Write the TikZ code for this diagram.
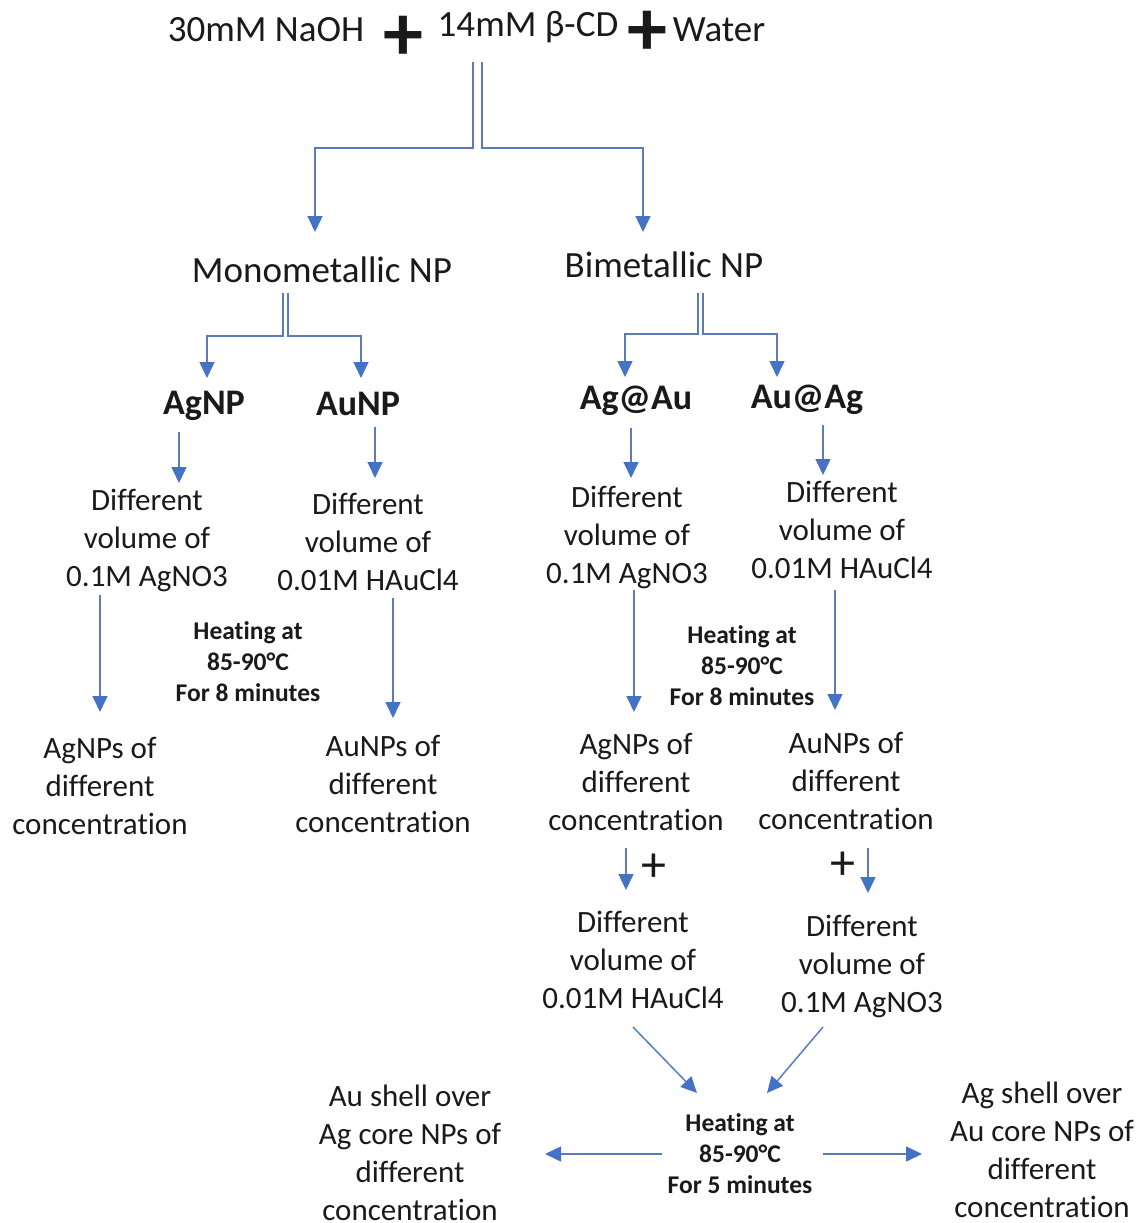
\documentclass[tikz,border=0pt]{standalone}
\usepackage{fontspec}
\setmainfont{Carlito}[Ligatures=NoCommon]
\usetikzlibrary{arrows.meta}
\definecolor{linkblue}{HTML}{4472C4}
\definecolor{linkline}{HTML}{5B7CBC}
\definecolor{ink}{HTML}{1A1A1A}
\begin{document}
\begin{tikzpicture}[x=1pt,y=-1pt,
  every node/.style={inner sep=0pt, text=ink},
  txt/.style={align=center, font=\fontsize{31}{38}\selectfont},
  big/.style={align=center, font=\fontsize{37}{44}\selectfont},
  bigb/.style={font=\fontsize{36}{44}\selectfont\bfseries},
  heat/.style={align=center, font=\fontsize{25.5}{31}\selectfont\bfseries},
  plusbig/.style={font=\fontsize{80}{80}\selectfont\bfseries},
  plussmall/.style={font=\fontsize{50}{50}\selectfont},
  link/.style={draw=linkline, line width=1.5pt},
  arr/.style={link, -{Triangle[length=16pt,width=15pt,color=linkblue]}},
]
\useasboundingbox[fill=white] (0,0) rectangle (1140,1223);

% starting mixture
\node[big] (naoh) at (266,30) {30mM NaOH};
\node[plusbig] (p1) at (403,38) {+};
\node[big] (cd) at (528,27) {14mM β-CD};
\node[plusbig] (p2) at (647,33) {+};
\node[big] (water) at (719,30) {Water};

% two families
\node[big] (mono) at (322,270) {Monometallic NP};
\node[big] (bi) at (664,265) {Bimetallic NP};

% monometallic and bimetallic types
\node[bigb] (agnp) at (204,406) {AgNP};
\node[bigb] (aunp) at (358,404) {AuNP};
\node[bigb] (agau) at (636,401) {Ag@Au};
\node[bigb] (auag) at (807,400) {Au@Ag};

% precursor volumes
\node[txt] (v1) at (147,540) {Different\\volume of\\0.1M AgNO3};
\node[txt] (v2) at (368,542) {Different\\volume of\\0.01M HAuCl4};
\node[txt] (v3) at (627,537) {Different\\volume of\\0.1M AgNO3};
\node[txt] (v4) at (842,530) {Different\\volume of\\0.01M HAuCl4};

% heating steps
\node[heat] (h1) at (248,662) {Heating at\\85-90°C\\For 8 minutes};
\node[heat] (h2) at (742,666) {Heating at\\85-90°C\\For 8 minutes};

% monometallic products
\node[txt] (c1) at (100,786) {AgNPs of\\different\\concentration};
\node[txt] (c2) at (383,784) {AuNPs of\\different\\concentration};
\node[txt] (c3) at (636,782) {AgNPs of\\different\\concentration};
\node[txt] (c4) at (846,781) {AuNPs of\\different\\concentration};

% second precursor
\node[plussmall] (p3) at (654,868) {+};
\node[plussmall] (p4) at (843,866) {+};
\node[txt] (s1) at (633,960) {Different\\volume of\\0.01M HAuCl4};
\node[txt] (s2) at (862,966) {Different\\volume of\\0.1M AgNO3};

% final heating and core-shell products
\node[heat] (h3) at (740,1154) {Heating at\\85-90°C\\For 5 minutes};
\node[txt] (f1) at (410,1153) {Au shell over\\Ag core NPs of\\different\\concentration};
\node[txt] (f2) at (1042,1150) {Ag shell over\\Au core NPs of\\different\\concentration};

% connector end points
\coordinate (cd-l) at (473,62);   \coordinate (cd-r) at (482,62);
\coordinate (mono-in) at (315,232); \coordinate (bi-in) at (643,232);
\coordinate (mono-l) at (283,293); \coordinate (mono-r) at (288,293);
\coordinate (bi-l) at (698,293);   \coordinate (bi-r) at (703,293);
\coordinate (agnp-in) at (207,378); \coordinate (aunp-in) at (361,378);
\coordinate (agau-in) at (625,377); \coordinate (auag-in) at (777,377);
\coordinate (agnp-out) at (179,432); \coordinate (v1-in) at (179,483);
\coordinate (aunp-out) at (375,427); \coordinate (v2-in) at (375,478);
\coordinate (agau-out) at (631,428); \coordinate (v3-in) at (631,478);
\coordinate (auag-out) at (823,425); \coordinate (v4-in) at (823,475);
\coordinate (v1-out) at (100,595); \coordinate (c1-in) at (100,712);
\coordinate (v2-out) at (393,598); \coordinate (c2-in) at (393,718);
\coordinate (v3-out) at (634,590); \coordinate (c3-in) at (634,712);
\coordinate (v4-out) at (835,590); \coordinate (c4-in) at (835,710);
\coordinate (c3-out) at (626,848); \coordinate (s1-in) at (626,890);
\coordinate (c4-out) at (868,848); \coordinate (s2-in) at (868,893);
\coordinate (s1-out) at (633,1027); \coordinate (h3-inl) at (697,1093);
\coordinate (s2-out) at (823,1027); \coordinate (h3-inr) at (767,1093);
\coordinate (h3-l) at (662,1154); \coordinate (f1-in) at (545,1154);
\coordinate (h3-r) at (823,1154); \coordinate (f2-in) at (922,1154);

% mixture splits into the two families
\draw[arr] (cd-l) -- (cd-l |- 0,148) -- (mono-in |- 0,148) -- (mono-in);
\draw[arr] (cd-r) -- (cd-r |- 0,148) -- (bi-in |- 0,148) -- (bi-in);

% each family splits into its two types
\draw[arr] (mono-l) -- (mono-l |- 0,336) -- (agnp-in |- 0,336) -- (agnp-in);
\draw[arr] (mono-r) -- (mono-r |- 0,336) -- (aunp-in |- 0,336) -- (aunp-in);
\draw[arr] (bi-l) -- (bi-l |- 0,334) -- (agau-in |- 0,334) -- (agau-in);
\draw[arr] (bi-r) -- (bi-r |- 0,334) -- (auag-in |- 0,334) -- (auag-in);

% precursor addition
\draw[arr] (agnp-out) -- (v1-in);
\draw[arr] (aunp-out) -- (v2-in);
\draw[arr] (agau-out) -- (v3-in);
\draw[arr] (auag-out) -- (v4-in);

% heating to nanoparticles
\draw[arr] (v1-out) -- (c1-in);
\draw[arr] (v2-out) -- (c2-in);
\draw[arr] (v3-out) -- (c3-in);
\draw[arr] (v4-out) -- (c4-in);

% second metal added
\draw[arr] (c3-out) -- (s1-in);
\draw[arr] (c4-out) -- (s2-in);

% final heating
\draw[arr] (s1-out) -- (h3-inl);
\draw[arr] (s2-out) -- (h3-inr);
\draw[arr] (h3-l) -- (f1-in);
\draw[arr] (h3-r) -- (f2-in);
\end{tikzpicture}
\end{document}
